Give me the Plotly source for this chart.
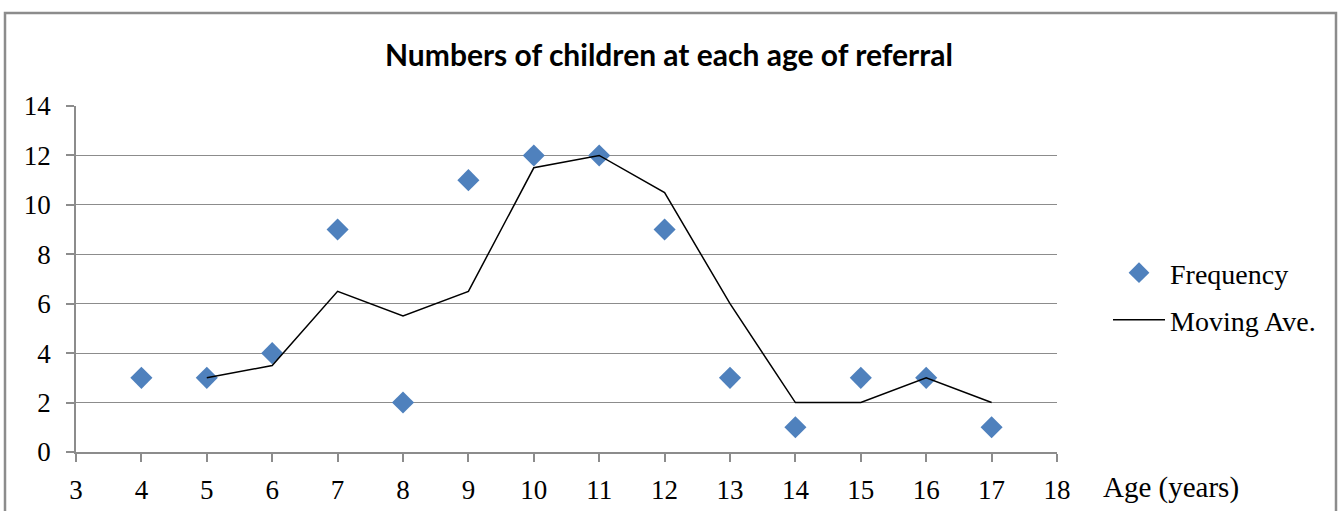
import plotly.graph_objects as go

ages = [4, 5, 6, 7, 8, 9, 10, 11, 12, 13, 14, 15, 16, 17]
frequency = [3, 3, 4, 9, 2, 11, 12, 12, 9, 3, 1, 3, 3, 1]
ma_ages = [5, 6, 7, 8, 9, 10, 11, 12, 13, 14, 15, 16, 17]
moving_ave = [3, 3.5, 6.5, 5.5, 6.5, 11.5, 12, 10.5, 6, 2, 2, 3, 2]

W, H = 1338, 511
L, R, T, B = 76, 1057, 106, 452
pw, ph = R - L, B - T

def px(x):
    return (x - L) / pw

def py(y):
    return (B - y) / ph

serif = "Liberation Serif"

fig = go.Figure()
fig.add_trace(go.Scatter(
    x=ages, y=frequency, mode="markers", name="Frequency",
    marker=dict(symbol="diamond", size=17, color="#4F81BD", line=dict(width=0)),
    legend="legend",
))
fig.add_trace(go.Scatter(
    x=ma_ages, y=moving_ave, mode="lines", name="Moving Ave.",
    line=dict(color="black", width=1.5),
    legend="legend2",
))

fig.update_layout(
    width=W, height=H,
    margin=dict(l=L, r=W - R, t=T, b=H - B, autoexpand=False),
    paper_bgcolor="white", plot_bgcolor="white",
    title=dict(text="<b>Numbers of children at each age of referral</b>",
               x=0.5, xanchor="center", y=1 - 55 / H, yanchor="middle",
               font=dict(family="Lato", size=30, color="black")),
    xaxis=dict(range=[3, 18], tickmode="linear", tick0=3, dtick=1, automargin=False,
               showgrid=False, zeroline=False, showline=True, linecolor="#8c8c8c", linewidth=1.5,
               ticks="outside", ticklen=8, tickcolor="#8c8c8c", tickwidth=1.5,
               ticklabelstandoff=5,
               tickfont=dict(family=serif, size=27, color="black")),
    yaxis=dict(range=[0, 14], tickmode="linear", tick0=0, dtick=2, automargin=False,
               showgrid=True, gridcolor="#8c8c8c", gridwidth=1.2, zeroline=False,
               showline=True, linecolor="#8c8c8c", linewidth=1.5,
               ticks="outside", ticklen=8, tickcolor="#8c8c8c", tickwidth=1.5,
               ticklabelstandoff=10,
               tickfont=dict(family=serif, size=27, color="black")),
    legend=dict(x=px(1108), y=py(273), xanchor="left", yanchor="middle",
                itemwidth=52,
                font=dict(family=serif, size=28, color="black"), bgcolor="rgba(0,0,0,0)"),
    legend2=dict(x=px(1108), y=py(320), xanchor="left", yanchor="middle",
                 itemwidth=52,
                 font=dict(family=serif, size=28, color="black"), bgcolor="rgba(0,0,0,0)"),
    showlegend=True,
)

fig.add_annotation(text="Age (years)", xref="paper", yref="paper",
                   x=px(1101), y=py(487), xanchor="left", yanchor="middle",
                   showarrow=False, font=dict(family=serif, size=29, color="black"))

fig.add_shape(type="rect", xref="paper", yref="paper",
              x0=px(5), x1=px(1336), y0=py(530), y1=py(13),
              line=dict(color="#8c8c8c", width=2.5), fillcolor="rgba(0,0,0,0)", layer="below")

fig.write_html("out.html")
